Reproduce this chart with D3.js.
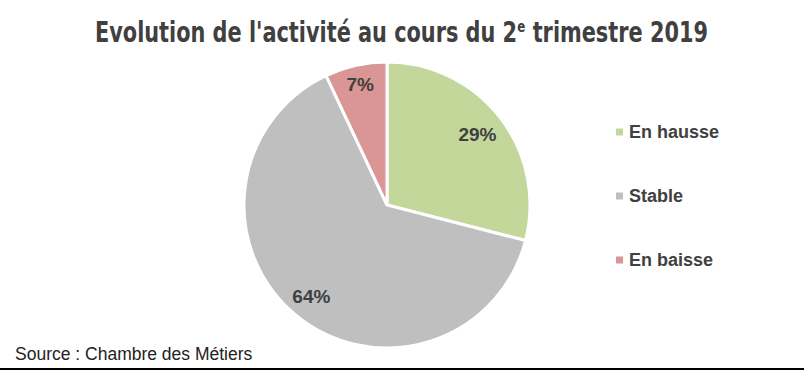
<!DOCTYPE html>
<html lang="fr">
<head>
<meta charset="UTF-8">
<title>Evolution de l'activité</title>
<script src="https://d3js.org/d3.v7.min.js"></script>
<style>
  body { margin: 0; background: #fff; }
  svg { display: block; }
  .title { font-family: "Liberation Sans Narrow", "DejaVu Sans Condensed", "Arial Narrow", sans-serif; font-weight: bold; font-size: 28px; fill: #404040; }
  .lbl { font-family: "Liberation Sans", Arial, sans-serif; font-weight: bold; font-size: 19px; fill: #404040; }
  .leg { font-family: "Liberation Sans", Arial, sans-serif; font-weight: bold; font-size: 18px; fill: #404040; }
  .src { font-family: "Liberation Sans", Arial, sans-serif; font-size: 17.5px; fill: #222; }
</style>
</head>
<body>
<svg id="chart" width="804" height="371"></svg>
<script>
// data
var categories = ["En hausse", "Stable", "En baisse"];
var values = [29, 64, 7];
var colors = ["#C4D79B", "#BFBFBF", "#DA9694"];

var svg = d3.select("#chart");
var W = 804, H = 371;
var cx = 387, cy = 205, r = 143;

// title: pieces laid out one after another, then squeezed to the reference width
var tg = svg.append("g");
var parts = [
  { t: "Evolution de l'activité au cours du 2", size: 28, dy: 0 },
  { t: "e", size: 16, dy: -10 },
  { t: "\u00a0trimestre 2019", size: 28, dy: 0 }
];
var tx = 0;
parts.forEach(p => {
  var el = tg.append("text")
      .attr("class", "title")
      .attr("x", tx)
      .attr("y", p.dy)
      .style("font-size", p.size + "px")
      .text(p.t);
  tx += el.node().getComputedTextLength();
});
var titleW = 613;
tg.attr("transform", `translate(95,42) scale(${titleW / tx},1)`);

var data = categories.map((c, i) => ({ cat: c, value: values[i], color: colors[i] }));

var pie = d3.pie().sort(null).value(d => d.value);
var arc = d3.arc().innerRadius(0).outerRadius(r);
var arcs = pie(data);

var g = svg.append("g").attr("transform", `translate(${cx},${cy})`);

g.selectAll("path")
  .data(arcs)
  .enter()
  .append("path")
    .attr("d", arc)
    .attr("fill", d => d.data.color)
    .attr("stroke", "#fff")
    .attr("stroke-width", 3)
    .attr("stroke-linejoin", "miter");

// label positions (fraction of radius)
var labelR = [0.8, 0.83, 0.86];
g.selectAll("text.lbl")
  .data(arcs)
  .enter()
  .append("text")
    .attr("class", "lbl")
    .attr("text-anchor", "middle")
    .attr("dominant-baseline", "central")
    .attr("transform", (d, i) => {
      var a = (d.startAngle + d.endAngle) / 2;
      var rr = r * labelR[i];
      return `translate(${Math.sin(a) * rr},${-Math.cos(a) * rr})`;
    })
    .text(d => d.data.value + "%");

// legend
var legY = d3.scalePoint().domain(categories).range([132, 260]);
var leg = svg.append("g");
leg.selectAll("rect")
  .data(data)
  .enter()
  .append("rect")
    .attr("x", 616)
    .attr("y", d => legY(d.cat) - 3.5)
    .attr("width", 7)
    .attr("height", 7)
    .attr("fill", d => d.color);
leg.selectAll("text")
  .data(data)
  .enter()
  .append("text")
    .attr("class", "leg")
    .attr("x", 629)
    .attr("y", d => legY(d.cat))
    .attr("dominant-baseline", "central")
    .text(d => d.cat);

// source
svg.append("text")
    .attr("class", "src")
    .attr("x", 15)
    .attr("y", 360)
    .text("Source : Chambre des Métiers");

// bottom rule
svg.append("line")
    .attr("x1", 0).attr("x2", W)
    .attr("y1", 369).attr("y2", 369)
    .attr("stroke", "#000")
    .attr("stroke-width", 2);
</script>
</body>
</html>
